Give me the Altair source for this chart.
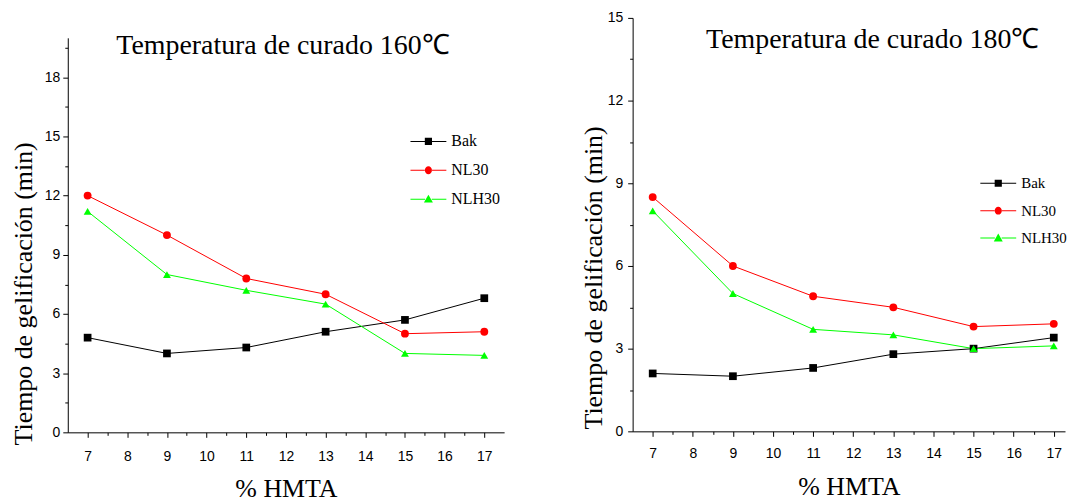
import altair as alt
import pandas as pd

# ---- data ----
x_vals = [7, 9, 11, 13, 15, 17]
series = ["Bak", "NL30", "NLH30"]
colors = ["#000000", "#ff0000", "#00ff00"]

y160_bak = [4.8, 4.0, 4.3, 5.1, 5.7, 6.8]
y160_nl30 = [12.0, 10.0, 7.8, 7.0, 5.0, 5.1]
y160_nlh30 = [11.2, 8.0, 7.2, 6.5, 4.0, 3.9]

y180_bak = [2.1, 2.0, 2.3, 2.8, 3.0, 3.4]
y180_nl30 = [8.5, 6.0, 4.9, 4.5, 3.8, 3.9]
y180_nlh30 = [8.0, 5.0, 3.7, 3.5, 3.0, 3.1]

titles = ["Temperatura de curado 160℃", "Temperatura de curado 180℃"]
x_title = "% HMTA"
y_title = "Tiempo de gelificación (min)"
x_ticks = [7, 8, 9, 10, 11, 12, 13, 14, 15, 16, 17]
x_minor = [7.5, 8.5, 9.5, 10.5, 11.5, 12.5, 13.5, 14.5, 15.5, 16.5]
y160_ticks = [0, 3, 6, 9, 12, 15, 18]
y160_minor = [1.5, 4.5, 7.5, 10.5, 13.5, 16.5, 19.5]
y180_ticks = [0, 3, 6, 9, 12, 15]
y180_minor = [1.5, 4.5, 7.5, 10.5, 13.5]

marker_shapes = ["square", "circle", "triangle-up"]
marker_sizes = [60, 62, 62]
# legend glyphs: a line across the whole symbol slot with the marker in its middle
_bars = "M-1,-0.03H-0.19V0.03H-1ZM0.19,-0.03H1V0.03H0.19Z"
legend_paths = [
    _bars + "M-0.2,-0.2H0.2V0.2H-0.2Z",
    _bars + "M-0.2,0A0.2,0.22 0 1,0 0.2,0A0.2,0.22 0 1,0 -0.2,0Z",
    _bars + "M0,-0.25L0.25,0.19H-0.25Z",
]

SERIF = "Liberation Serif"
SANS = "Liberation Sans"


def panel(vals, title, xmax, ymax, yticks, yminor, width, height, yrange, tpos, lpos, row_pad,
          leg_font, ytitle_xy, xlab_pad, ylab_pad, xtitle_pad):
    df = pd.DataFrame({
        "x": x_vals * 3,
        "y": vals[0] + vals[1] + vals[2],
        "series": [s for s in series for _ in x_vals],
    })
    xs = alt.Scale(domain=[6.5, xmax], nice=False, zero=False)
    ys = alt.Scale(domain=[0, ymax], nice=False, zero=True, range=yrange)

    x_main = alt.Axis(values=x_ticks, orient="bottom", tickSize=5, labelPadding=xlab_pad,
                      title=x_title, titlePadding=xtitle_pad, grid=False, format="d",
                      labelFlush=False, labelOverlap=False)
    y_main = alt.Axis(values=yticks, orient="left", tickSize=5, labelPadding=ylab_pad,
                      title=y_title, titleX=ytitle_xy[0], titleY=ytitle_xy[1], grid=False,
                      format="d", labelFlush=False, labelOverlap=False)
    x_min = alt.Axis(values=x_minor, orient="bottom", tickSize=3, labels=False, domain=False,
                     title=None, grid=False)
    y_min = alt.Axis(values=yminor, orient="left", tickSize=3, labels=False, domain=False,
                     title=None, grid=False)

    base = alt.Chart(df)
    layers = []
    for i, s in enumerate(series):
        sub = base.transform_filter(alt.datum.series == s)
        ln = sub.mark_line(strokeWidth=1, color=colors[i]).encode(
            x=alt.X("x:Q", scale=xs, axis=x_main if i == 0 else None),
            y=alt.Y("y:Q", scale=ys, axis=y_main if i == 0 else None),
        )
        layers.append(ln)
    for i, s in enumerate(series):
        sub = base.transform_filter(alt.datum.series == s)
        pts = sub.mark_point(
            filled=True, shape=marker_shapes[i], size=marker_sizes[i], opacity=1, color=colors[i]
        ).encode(
            x=alt.X("x:Q", scale=xs, axis=x_min if i == 0 else None),
            y=alt.Y("y:Q", scale=ys, axis=y_min if i == 0 else None),
        )
        layers.append(pts)

    leg = alt.Legend(title=None, orient="none", legendX=lpos[0], legendY=lpos[1],
                     labelFont=SERIF, labelFontSize=leg_font, labelColor="black",
                     symbolSize=1296, labelOffset=5, rowPadding=row_pad, padding=0,
                     symbolStrokeWidth=0, symbolOpacity=1)
    legend_layer = base.mark_point(filled=True, opacity=0, size=1).encode(
        x=alt.X("x:Q", scale=xs, axis=None),
        y=alt.Y("y:Q", scale=ys, axis=None),
        color=alt.Color("series:N", scale=alt.Scale(domain=series, range=colors), legend=leg),
        shape=alt.Shape("series:N", scale=alt.Scale(domain=series, range=legend_paths), legend=leg),
    )
    layers.append(legend_layer)

    ttl = alt.Chart(pd.DataFrame({"t": [title]})).mark_text(
        font=SERIF, fontSize=28, align="center", baseline="alphabetic", color="black"
    ).encode(x=alt.value(tpos[0]), y=alt.value(tpos[1]), text="t:N")
    layers.append(ttl)

    return alt.layer(*layers).resolve_axis(x="independent", y="independent").properties(
        width=width, height=height
    )


# left plot: top of frame at y=17 like the right one, axis drawn from 37 down (range offset)
left = panel([y160_bak, y160_nl30, y160_nlh30], titles[0], 17.5, 20, y160_ticks, y160_minor,
             438, 416, [416, 20], (216, 36), (344, 106), 3, 16, (-31, 276.5), 12, 3, 12)
# right plot: the reference's axis runs off the picture's right edge
right = panel([y180_bak, y180_nl30, y180_nlh30], titles[1], 17.28, 15, y180_ticks, y180_minor,
              434, 415, [415, 0], (241, 30), (349, 148), 1.5, 15, (-26, 260.5), 10, 5, 13)

chart = alt.concat(left, right, columns=2, spacing=77).resolve_scale(
    color="independent", shape="independent"
).properties(
    padding={"left": 3, "top": 2, "right": 0, "bottom": 0}
).configure_view(stroke=None).configure_axis(
    domainColor="black", tickColor="black", labelColor="black", titleColor="black",
    labelFont=SANS, labelFontSize=14, titleFont=SERIF, titleFontSize=26,
    titleFontWeight="normal", domainWidth=1, tickWidth=1
)

chart.save("out.html", embed_options={"renderer": "svg", "actions": False})
